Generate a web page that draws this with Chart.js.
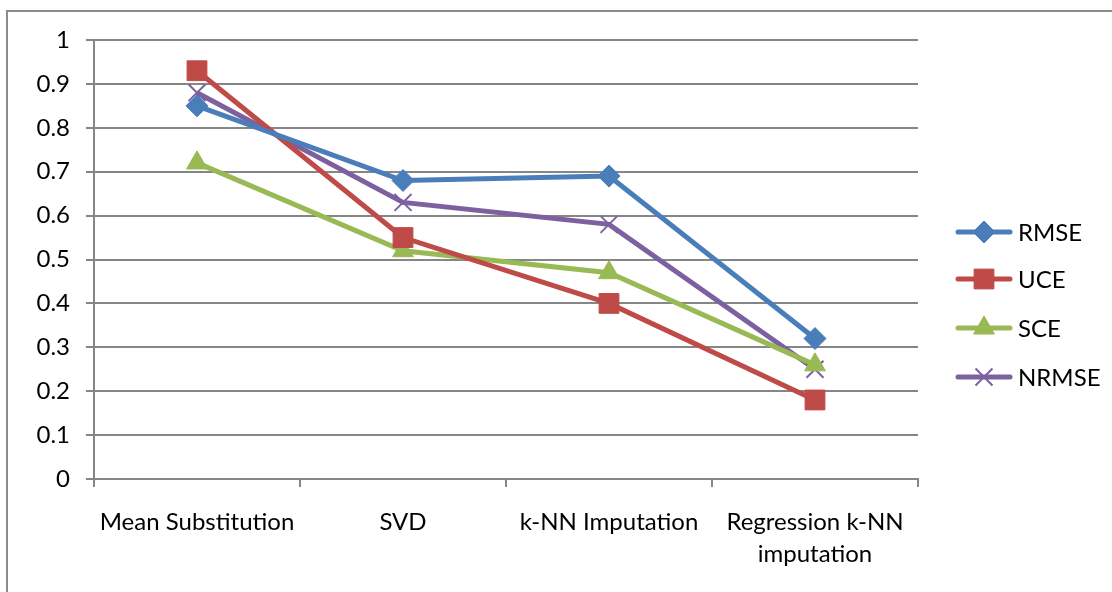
<!DOCTYPE html>
<html>
<head>
<meta charset="utf-8">
<script src="https://cdn.jsdelivr.net/npm/chart.js@4/dist/chart.umd.min.js"></script>
<style>
  html, body { margin: 0; padding: 0; background: #fff; }
  #wrap { width: 1112px; height: 592px; position: relative; }
</style>
</head>
<body>
<div id="wrap"><canvas id="linechart" width="1112" height="592"></canvas></div>
<script>
// data
const methods = ['Mean Substitution', 'SVD', 'k-NN Imputation', ['Regression k-NN', 'imputation']];
const rmse  = [0.85, 0.68, 0.69, 0.32];
const uce   = [0.93, 0.55, 0.40, 0.18];
const sce   = [0.72, 0.52, 0.47, 0.26];
const nrmse = [0.88, 0.63, 0.58, 0.25];
const yTicks = [0, 0.1, 0.2, 0.3, 0.4, 0.5, 0.6, 0.7, 0.8, 0.9, 1];

const FONT = 'Lato, "Open Sans", sans-serif';
const FSIZE = 24;
const GRID = '#868686';

function series(label, values, color, style, radius) {
  return {
    label: label,
    data: values,
    borderColor: color,
    backgroundColor: color,
    borderWidth: 5,
    pointStyle: style,
    pointRadius: radius,
    pointHoverRadius: radius,
    pointBorderColor: color,
    pointBackgroundColor: color,
    pointBorderWidth: style === 'crossRot' ? 2 : 1,
    tension: 0,
    fill: false
  };
}

const data = {
  labels: methods,
  datasets: [
    series('RMSE', rmse, '#4a7ebb', 'rectRot', 11),
    series('UCE', uce, '#be4b48', 'rect', 14),
    series('SCE', sce, '#98b954', 'triangle', 12),
    series('NRMSE', nrmse, '#7d60a0', 'crossRot', 12)
  ]
};

// outer frame + legend drawn by hand so the line/marker look like the original
const frameLegend = {
  id: 'frameLegend',
  beforeDraw(chart) {
    const ctx = chart.ctx;
    ctx.save();
    ctx.fillStyle = '#fff';
    ctx.fillRect(0, 0, chart.width, chart.height);
    ctx.strokeStyle = '#8c8c8c';
    ctx.lineWidth = 2;
    ctx.strokeRect(7, 11, 1200, 700);
    ctx.restore();
  },
  afterDraw(chart) {
    const ctx = chart.ctx;
    const rows = [232, 279, 328, 377];
    ctx.save();
    chart.data.datasets.forEach((ds, i) => {
      const y = rows[i];
      ctx.strokeStyle = ds.borderColor;
      ctx.lineWidth = 5;
      ctx.lineCap = 'round';
      ctx.beginPath();
      ctx.moveTo(958, y);
      ctx.lineTo(1010, y);
      ctx.stroke();
      ctx.lineCap = 'butt';
      ctx.fillStyle = ds.backgroundColor;
      ctx.strokeStyle = ds.borderColor;
      ctx.lineWidth = ds.pointBorderWidth;
      Chart.helpers.drawPoint(ctx, {
        pointStyle: ds.pointStyle, rotation: 0, radius: ds.pointRadius, borderWidth: ds.pointBorderWidth
      }, 984, y);
      ctx.fillStyle = '#000';
      ctx.font = FSIZE + 'px ' + FONT;
      ctx.textBaseline = 'middle';
      ctx.textAlign = 'left';
      ctx.fillText(ds.label, 1018, y + 1);
    });
    ctx.restore();
  }
};

const config = {
  type: 'line',
  data,
  options: {
    responsive: false,
    animation: false,
    layout: { padding: { left: 0, right: 194, top: 40, bottom: 0 } },
    plugins: { legend: { display: false }, tooltip: { enabled: false } },
    scales: {
      x: {
        offset: true,
        grid: { offset: true, drawOnChartArea: false, drawTicks: true, tickLength: 8, color: GRID, lineWidth: 2 },
        border: { color: GRID, width: 2 },
        ticks: { color: '#000', font: { family: FONT, size: FSIZE, lineHeight: 1.3 }, padding: 20, maxRotation: 0, autoSkip: false },
        afterFit(scale) { scale.height = 113; }
      },
      y: {
        min: 0,
        max: 1,
        afterBuildTicks(scale) { scale.ticks = yTicks.map(v => ({ value: v })); },
        grid: { color: GRID, lineWidth: 2, tickLength: 8 },
        border: { color: GRID, width: 2 },
        ticks: { color: '#000', font: { family: FONT, size: FSIZE }, padding: 16, callback: v => String(v) },
        afterFit(scale) { scale.width = 94; }
      }
    }
  },
  plugins: [frameLegend]
};

const linechart = new Chart(document.getElementById('linechart'), config);
</script>
</body>
</html>
